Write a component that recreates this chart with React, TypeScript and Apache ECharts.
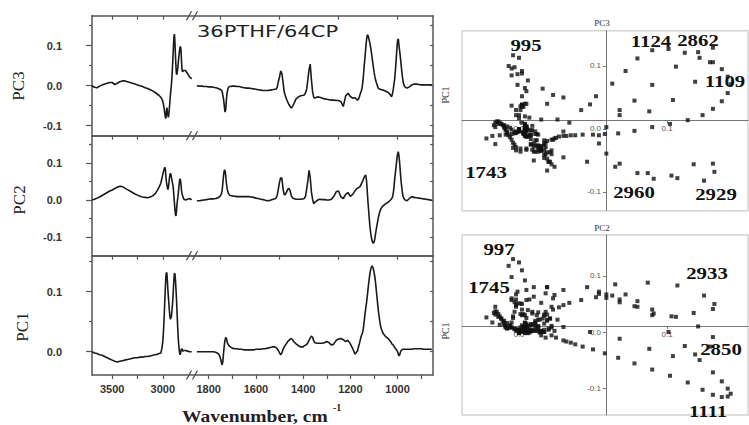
import React, { useEffect, useRef } from "react";
import * as echarts from "echarts";

// ---------- DATA (loadings) ----------
const wavenumbersHigh = [
  3700, 3675, 3650, 3625, 3600, 3575, 3550, 3525, 3500, 3475, 3450, 3425, 3400, 3375, 3350, 3325, 3300, 3275, 3250, 3225, 3200, 3175, 3150, 3125, 3100, 3075, 3050,
  3035,
  3020, 3015, 3010, 3005, 3000, 2995, 2990, 2985, 2980, 2975, 2970, 2965, 2960, 2955, 2950, 2945, 2940, 2935, 2930, 2925, 2920, 2915, 2910, 2905, 2900, 2895, 2890, 2885, 2880, 2875, 2870, 2865, 2860, 2855, 2850, 2845, 2840, 2835, 2830, 2825, 2820, 2815, 2810, 2805, 2800, 2795, 2790,
  2775, 2755, 2735, 2715,
];
const pc1High = [
  0.000, -0.002, -0.003, -0.005, -0.006, -0.008, -0.010, -0.012, -0.014, -0.016, -0.017, -0.016, -0.015, -0.014, -0.013, -0.012, -0.011, -0.010, -0.010, -0.009, -0.009, -0.008, -0.008, -0.007, -0.006, -0.005, -0.004,
  -0.003,
  -0.002, 0.001, 0.005, 0.010, 0.018, 0.030, 0.046, 0.065, 0.087, 0.107, 0.125, 0.132, 0.131, 0.118, 0.103, 0.091, 0.080, 0.068, 0.059, 0.054, 0.054, 0.059, 0.068, 0.078, 0.090, 0.106, 0.121, 0.131, 0.129, 0.119, 0.104, 0.088, 0.068, 0.048, 0.030, 0.016, 0.006, -0.001, -0.005, -0.003, 0.002, 0.005, 0.004, 0.002, 0.001, 0.002, 0.002,
  0.002, 0.001, 0.000, 0.000,
];
const pc2High = [
  0.000, 0.002, 0.005, 0.008, 0.012, 0.016, 0.020, 0.024, 0.027, 0.031, 0.034, 0.037, 0.036, 0.032, 0.028, 0.024, 0.020, 0.016, 0.013, 0.010, 0.008, 0.007, 0.006, 0.008, 0.011, 0.017, 0.028,
  0.036,
  0.045, 0.051, 0.057, 0.063, 0.069, 0.075, 0.080, 0.085, 0.088, 0.083, 0.065, 0.050, 0.041, 0.034, 0.028, 0.033, 0.045, 0.058, 0.067, 0.072, 0.068, 0.061, 0.053, 0.046, 0.040, 0.027, 0.010, -0.009, -0.026, -0.040, -0.043, -0.030, -0.012, 0.000, 0.009, 0.024, 0.039, 0.051, 0.057, 0.053, 0.040, 0.025, 0.017, 0.012, 0.008, 0.004, 0.002,
  0.000, 0.002, 0.004, 0.000,
];
const pc3High = [
  0.000, -0.004, -0.005, -0.001, 0.002, 0.004, 0.006, 0.008, 0.008, 0.003, 0.006, 0.010, 0.012, 0.012, 0.010, 0.008, 0.006, 0.004, 0.002, 0.000, -0.002, -0.005, -0.007, -0.010, -0.013, -0.017, -0.022,
  -0.025,
  -0.029, -0.031, -0.033, -0.036, -0.040, -0.045, -0.052, -0.060, -0.070, -0.078, -0.082, -0.068, -0.055, -0.056, -0.074, -0.079, -0.070, -0.055, -0.039, -0.023, -0.010, 0.003, 0.022, 0.045, 0.070, 0.099, 0.122, 0.129, 0.106, 0.075, 0.046, 0.028, 0.030, 0.039, 0.050, 0.064, 0.077, 0.087, 0.096, 0.098, 0.088, 0.060, 0.040, 0.035, 0.036, 0.038, 0.039,
  0.038, 0.030, 0.022, 0.017,
];

const wavenumbersLow = [
  1850, 1840, 1830, 1820, 1810, 1800, 1790, 1780, 1770,
  1765, 1760, 1756, 1752, 1749, 1746, 1743, 1740, 1737, 1734, 1731, 1728, 1725, 1722, 1719, 1716, 1712, 1708,
  1700, 1690, 1680, 1670, 1660, 1650, 1640, 1630, 1620, 1610, 1600, 1590, 1580, 1570, 1560, 1550, 1540, 1530, 1520,
  1515, 1510, 1505, 1500, 1495, 1490, 1485, 1480, 1475, 1470, 1465, 1460, 1455, 1450, 1445, 1440,
  1430, 1420, 1410, 1400,
  1395, 1390, 1385, 1380, 1375, 1370, 1365, 1360, 1355, 1350,
  1340, 1330, 1320, 1310, 1300, 1290, 1280, 1270, 1260, 1250, 1240, 1230, 1220, 1210, 1200, 1190, 1180, 1170,
  1165, 1162, 1159, 1156, 1153, 1150, 1147, 1144, 1141, 1138, 1135, 1132, 1129, 1126, 1123, 1120, 1117, 1114, 1111, 1108, 1105, 1102, 1099, 1096, 1093, 1090, 1087, 1084, 1081, 1078, 1075, 1072, 1069, 1066, 1063, 1060,
  1050, 1040, 1030,
  1027, 1024, 1021, 1018, 1015, 1012, 1009, 1006, 1003, 1000, 997, 994, 991, 988, 985, 982, 979, 976, 973, 970, 967,
  960, 950, 940, 930, 920, 910, 900, 890, 880, 870, 860,
  855,
];
const pc1Low = [
  0.000, 0.000, 0.000, 0.000, 0.000, 0.000, 0.000, 0.000, -0.001,
  -0.002, -0.003, -0.005, -0.009, -0.013, -0.018, -0.022, -0.016, -0.002, 0.010, 0.019, 0.024, 0.022, 0.017, 0.013, 0.011, 0.009, 0.008,
  0.006, 0.005, 0.005, 0.004, 0.004, 0.003, 0.003, 0.003, 0.003, 0.003, 0.004, 0.004, 0.004, 0.005, 0.005, 0.006, 0.007, 0.008, 0.008,
  0.007, 0.005, 0.002, -0.002, -0.005, -0.002, 0.004, 0.008, 0.011, 0.014, 0.017, 0.019, 0.021, 0.022, 0.020, 0.017,
  0.013, 0.010, 0.008, 0.008,
  0.010, 0.011, 0.012, 0.015, 0.019, 0.023, 0.026, 0.024, 0.018, 0.015,
  0.014, 0.014, 0.014, 0.015, 0.017, 0.015, 0.011, 0.013, 0.019, 0.021, 0.022, 0.020, 0.017, 0.019, 0.013, 0.005, -0.004, 0.001,
  0.009, 0.013, 0.018, 0.023, 0.027, 0.030, 0.034, 0.042, 0.052, 0.063, 0.072, 0.080, 0.090, 0.101, 0.112, 0.122, 0.131, 0.137, 0.141, 0.143, 0.141, 0.137, 0.131, 0.124, 0.114, 0.102, 0.090, 0.078, 0.067, 0.058, 0.050, 0.043, 0.038, 0.035, 0.032, 0.030,
  0.025, 0.022, 0.017,
  0.015, 0.013, 0.012, 0.011, 0.009, 0.007, 0.005, 0.004, 0.002, 0.000, -0.004, -0.007, -0.005, -0.001, 0.002, 0.003, 0.004, 0.004, 0.004, 0.004, 0.004,
  0.004, 0.004, 0.004, 0.005, 0.005, 0.005, 0.005, 0.004, 0.004, 0.004, 0.004,
  0.004,
];
const pc2Low = [
  -0.002, -0.002, -0.001, 0.000, 0.001, 0.002, 0.003, 0.003, 0.004,
  0.005, 0.006, 0.008, 0.010, 0.013, 0.017, 0.026, 0.045, 0.067, 0.080, 0.080, 0.066, 0.045, 0.031, 0.022, 0.017, 0.014, 0.012,
  0.011, 0.010, 0.009, 0.009, 0.009, 0.009, 0.009, 0.009, 0.008, 0.007, 0.005, 0.004, 0.002, 0.001, -0.001, -0.002, -0.001, 0.001, 0.003,
  0.005, 0.012, 0.030, 0.048, 0.060, 0.058, 0.030, 0.014, 0.015, 0.022, 0.029, 0.031, 0.024, 0.011, 0.006, 0.004,
  0.002, 0.002, 0.002, 0.003,
  0.004, 0.010, 0.030, 0.052, 0.080, 0.060, 0.022, 0.002, -0.010, -0.006,
  -0.001, 0.002, 0.001, 0.001, 0.000, 0.000, 0.002, 0.010, 0.022, 0.024, 0.008, 0.004, 0.015, 0.020, 0.010, 0.015, 0.025, 0.032,
  0.033, 0.035, 0.036, 0.040, 0.044, 0.048, 0.052, 0.057, 0.062, 0.065, 0.067, 0.055, 0.030, 0.000, -0.025, -0.050, -0.072, -0.088, -0.101, -0.110, -0.115, -0.116, -0.112, -0.103, -0.090, -0.078, -0.067, -0.056, -0.046, -0.038, -0.031, -0.026, -0.022, -0.019, -0.017, -0.015,
  -0.010, -0.006, 0.000,
  0.002, 0.005, 0.009, 0.020, 0.036, 0.058, 0.075, 0.092, 0.110, 0.124, 0.130, 0.118, 0.098, 0.072, 0.050, 0.032, 0.016, 0.008, 0.004, 0.001, 0.000,
  -0.002, 0.004, 0.009, 0.007, 0.006, 0.005, 0.004, 0.003, 0.002, 0.001, 0.000,
  0.000,
];
const pc3Low = [
  0.000, -0.001, -0.001, -0.002, -0.002, -0.003, -0.003, -0.004, -0.005,
  -0.006, -0.007, -0.008, -0.009, -0.010, -0.011, -0.015, -0.024, -0.034, -0.050, -0.066, -0.060, -0.034, -0.018, -0.009, -0.004, -0.002, -0.002,
  -0.001, -0.001, -0.002, -0.002, -0.004, -0.005, -0.006, -0.006, -0.007, -0.008, -0.009, -0.010, -0.011, -0.012, -0.012, -0.012, -0.011, -0.010, -0.009,
  -0.009, -0.004, 0.010, 0.022, 0.037, 0.030, 0.008, -0.016, -0.026, -0.034, -0.041, -0.047, -0.052, -0.056, -0.052, -0.046,
  -0.033, -0.028, -0.025, -0.024,
  -0.023, -0.018, -0.008, 0.015, 0.040, 0.054, 0.015, -0.015, -0.029, -0.031,
  -0.028, -0.029, -0.031, -0.033, -0.034, -0.035, -0.036, -0.036, -0.037, -0.037, -0.040, -0.052, -0.026, -0.019, -0.027, -0.031, -0.030, -0.036,
  -0.033, -0.028, -0.022, -0.017, -0.012, -0.004, 0.010, 0.030, 0.052, 0.072, 0.092, 0.112, 0.125, 0.127, 0.121, 0.113, 0.106, 0.095, 0.083, 0.071, 0.057, 0.044, 0.032, 0.022, 0.014, 0.008, 0.003, -0.003, -0.007, -0.008, -0.009, -0.009, -0.010, -0.010, -0.011, -0.011,
  -0.014, -0.017, -0.023,
  -0.027, -0.026, -0.018, -0.008, 0.005, 0.018, 0.040, 0.065, 0.092, 0.113, 0.117, 0.100, 0.085, 0.070, 0.052, 0.035, 0.020, 0.008, 0.002, -0.002, -0.004,
  -0.006, -0.003, 0.002, 0.004, 0.004, 0.003, 0.002, 0.002, 0.002, 0.002, 0.002,
  0.002,
];

const topTicksHigh = [3500, 3250, 3000];
const topTicksLow = [1750, 1500, 1250, 1000];
const bottomTicksHigh = [3500, 3250, 3000];
const bottomLabelsHigh = [3500, 3000];
const bottomTicksLow = [1800, 1700, 1600, 1500, 1400, 1300, 1200, 1100, 1000, 900];
const bottomLabelsLow = [1800, 1600, 1400, 1200, 1000];
const scatterLabelsX = [0, 0.1];
const scatterLabelsY = [-0.1, 0, 0.1];

const pc1All = [...pc1High, ...pc1Low];
const pc2All = [...pc2High, ...pc2Low];
const pc3All = [...pc3High, ...pc3Low];

// ---------- STYLE ----------
const FRAME = "#555555";
const INK = "#1a1a1a";
const SANS = "Liberation Sans";
const SERIF = "Liberation Serif";
const fmt = (v: number) => v.toFixed(1);
const fmtInt = (v: number) => String(Math.round(v));

const panels = [
  { name: "PC3", top: 15.7, height: 120, min: -0.125, max: 0.175, majors: [-0.1, 0, 0.1], minors: [-0.05, 0.05, 0.15], values: [pc3High, pc3Low], labelX: 18.5, labelY: 86 },
  { name: "PC2", top: 135.7, height: 120, min: -0.15, max: 0.173, majors: [-0.1, 0, 0.1], minors: [-0.05, 0.05, 0.15], values: [pc2High, pc2Low], labelX: 19, labelY: 200 },
  { name: "PC1", top: 255.7, height: 119.3, min: -0.0388, max: 0.16, majors: [0, 0.1], minors: [0.05, 0.15], values: [pc1High, pc1Low], labelX: 22, labelY: 327 },
];

const segments = [
  { left: 92, width: 103, min: 2682, max: 3700, wn: wavenumbersHigh, topTicks: topTicksHigh, bottomTicks: bottomTicksHigh, bottomLabels: bottomLabelsHigh },
  { left: 195, width: 238, min: 850, max: 1858, wn: wavenumbersLow, topTicks: topTicksLow, bottomTicks: bottomTicksLow, bottomLabels: bottomLabelsLow },
];

const scatters = [
  { title: "PC3", top: 30.7, height: 180, yMin: -0.1297, yMax: 0.156, ys: pc3All, crossOffset: -90, sideLabelY: 95,
    labels: [
      { t: "995", x: 526, y: 45 }, { t: "1124", x: 651, y: 41 }, { t: "2862", x: 698, y: 40 },
      { t: "1109", x: 725, y: 81.5 }, { t: "1743", x: 486, y: 172 }, { t: "2960", x: 634, y: 192 }, { t: "2929", x: 716, y: 194 },
    ] },
  { title: "PC2", top: 235, height: 180, yMin: -0.148, yMax: 0.173, ys: pc2All, crossOffset: -89, sideLabelY: 331,
    labels: [
      { t: "997", x: 499, y: 249 }, { t: "1745", x: 489, y: 287.5 }, { t: "2933", x: 707, y: 273 },
      { t: "2850", x: 721, y: 349 }, { t: "1111", x: 708, y: 411 },
    ] },
];

function buildOption() {
  const grid: any[] = [];
  const xAxis: any[] = [];
  const yAxis: any[] = [];
  const series: any[] = [];
  const graphic: any[] = [];

  const lineStyle = { color: FRAME, width: 1.5 };
  const tickStyle = { color: FRAME, width: 1.2 };

  panels.forEach((p, i) => {
    const last = i === panels.length - 1;
    segments.forEach((s, j) => {
      const g = grid.length;
      grid.push({ left: s.left, top: p.top, width: s.width, height: p.height });
      const xb = xAxis.length;
      xAxis.push({
        type: "value", gridIndex: g, position: "bottom", min: s.min, max: s.max, inverse: true,
        axisLine: { show: true, onZero: false, lineStyle },
        axisTick: last ? { show: true, inside: false, length: 4, customValues: s.bottomTicks, lineStyle: tickStyle } : { show: false },
        axisLabel: last
          ? { show: true, customValues: s.bottomLabels, formatter: fmtInt, margin: 8, fontSize: 11, fontWeight: "bold", color: "#333", fontFamily: SANS }
          : { show: false },
        splitLine: { show: false },
      });
      xAxis.push({
        type: "value", gridIndex: g, position: "top", min: s.min, max: s.max, inverse: true,
        axisLine: { show: true, onZero: false, lineStyle },
        axisTick: { show: true, inside: true, length: 4, customValues: s.topTicks, lineStyle: tickStyle },
        axisLabel: { show: false },
        splitLine: { show: false },
      });
      const yi = yAxis.length;
      if (j === 0) {
        yAxis.push({
          type: "value", gridIndex: g, position: "left", min: p.min, max: p.max,
          axisLine: { show: true, onZero: false, lineStyle },
          axisTick: { show: true, inside: false, length: 6, customValues: p.majors, lineStyle: tickStyle },
          axisLabel: { show: true, customValues: p.majors, formatter: fmt, margin: 30, fontSize: 11, fontWeight: "bold", color: "#333", fontFamily: SANS },
          splitLine: { show: false },
        });
        yAxis.push({
          type: "value", gridIndex: g, position: "left", min: p.min, max: p.max,
          axisLine: { show: false, onZero: false },
          axisTick: { show: true, inside: false, length: 3, customValues: p.minors, lineStyle: tickStyle },
          axisLabel: { show: false },
          splitLine: { show: false },
        });
      } else {
        yAxis.push({
          type: "value", gridIndex: g, position: "right", min: p.min, max: p.max,
          axisLine: { show: true, onZero: false, lineStyle },
          axisTick: { show: true, inside: true, length: 3, customValues: [...p.majors, ...p.minors], lineStyle: tickStyle },
          axisLabel: { show: false },
          splitLine: { show: false },
        });
      }
      series.push({
        type: "line", xAxisIndex: xb, yAxisIndex: yi,
        data: s.wn.map((w, k) => [w, p.values[j][k]]),
        showSymbol: false, symbol: "none", silent: true,
        lineStyle: { color: INK, width: 1.6 },
      });
    });
    graphic.push({
      type: "text", x: p.labelX, y: p.labelY, rotation: Math.PI / 2,
      style: { text: p.name, fontFamily: SERIF, fontSize: 17, fill: "#222", align: "center", verticalAlign: "middle" },
    });
  });

  // scatter plots (PC1 loading vs PC3 / PC2 loading, one point per wavenumber)
  scatters.forEach((sc) => {
    const g = grid.length;
    grid.push({ left: 462, top: sc.top, width: 286, height: sc.height, show: true, borderColor: "#d4d4d4", borderWidth: 1.5, backgroundColor: "transparent" });
    const xi = xAxis.length;
    xAxis.push({
      type: "value", gridIndex: g, position: "bottom", offset: sc.crossOffset, min: -0.0385, max: 0.1547,
      axisLine: { show: true, onZero: false, lineStyle: { color: "#777", width: 1 } },
      axisTick: { show: true, inside: false, length: 3, customValues: scatterLabelsX, lineStyle: { color: "#777" } },
      axisLabel: { show: true, customValues: scatterLabelsX, formatter: fmt, margin: 4, fontSize: 8, color: "#555", fontFamily: SANS },
      splitLine: { show: false },
    });
    const yi = yAxis.length;
    yAxis.push({
      type: "value", gridIndex: g, position: "left", offset: -144, min: sc.yMin, max: sc.yMax,
      axisLine: { show: true, onZero: false, lineStyle: { color: "#777", width: 1 } },
      axisTick: { show: true, inside: false, length: 3, customValues: scatterLabelsY, lineStyle: { color: "#777" } },
      axisLabel: { show: true, customValues: scatterLabelsY, formatter: fmt, margin: 5, fontSize: 8, color: "#555", fontFamily: SANS },
      splitLine: { show: false },
    });
    series.push({
      type: "scatter", xAxisIndex: xi, yAxisIndex: yi, silent: true,
      symbol: "rect", symbolSize: 4, itemStyle: { color: "#111" },
      data: pc1All.map((x, k) => [x, sc.ys[k]]),
    });
    graphic.push({
      type: "text", x: 602, y: sc.top - 7.5,
      style: { text: sc.title, fontFamily: SERIF, fontSize: 9, fill: "#333", align: "center", verticalAlign: "middle" },
    });
    graphic.push({
      type: "text", x: 445, y: sc.sideLabelY, rotation: Math.PI / 2,
      style: { text: "PC1", fontFamily: SERIF, fontSize: 10, fill: "#333", align: "center", verticalAlign: "middle" },
    });
    sc.labels.forEach((l) => {
      graphic.push({
        type: "text", x: l.x, y: l.y, scaleX: 1.3,
        style: { text: l.t, fontFamily: SERIF, fontWeight: "bold", fontSize: 16, fill: "#111", align: "center", verticalAlign: "middle" },
      });
    });
  });

  // axis breaks
  [15.7, 135.7, 255.7, 375].forEach((y) => {
    graphic.push({ type: "rect", shape: { x: 189, y: y - 2, width: 7, height: 4 }, style: { fill: "#fff" } });
    graphic.push({ type: "line", shape: { x1: 186.5, y1: y + 4.5, x2: 191.5, y2: y - 4.5 }, style: { stroke: "#444", lineWidth: 1.2 } });
    graphic.push({ type: "line", shape: { x1: 192.5, y1: y + 4.5, x2: 197.5, y2: y - 4.5 }, style: { stroke: "#444", lineWidth: 1.2 } });
  });

  graphic.push({
    type: "text", x: 197, y: 32, scaleX: 1.4,
    style: { text: "36PTHF/64CP", fontFamily: "DejaVu Sans", fontSize: 15, fill: "#222", align: "left", verticalAlign: "middle" },
  });
  graphic.push({
    type: "text", x: 182, y: 416, scaleX: 1.15,
    style: { text: "Wavenumber, cm", fontFamily: SERIF, fontWeight: "bold", fontSize: 17, fill: "#222", align: "left", verticalAlign: "middle" },
  });
  graphic.push({
    type: "text", x: 333, y: 407,
    style: { text: "-1", fontFamily: SERIF, fontWeight: "bold", fontSize: 10, fill: "#222", align: "left", verticalAlign: "middle" },
  });

  return { animation: false, backgroundColor: "#fff", grid, xAxis, yAxis, series, graphic };
}

export default function App() {
  const ref = useRef<HTMLDivElement>(null);
  useEffect(() => {
    if (!ref.current) return;
    const chart = echarts.init(ref.current, undefined, { renderer: "svg" });
    chart.setOption(buildOption() as any);
    return () => chart.dispose();
  }, []);
  return <div ref={ref} style={{ position: "fixed", left: 0, top: 0, width: 749, height: 425, background: "#fff" }} />;
}
